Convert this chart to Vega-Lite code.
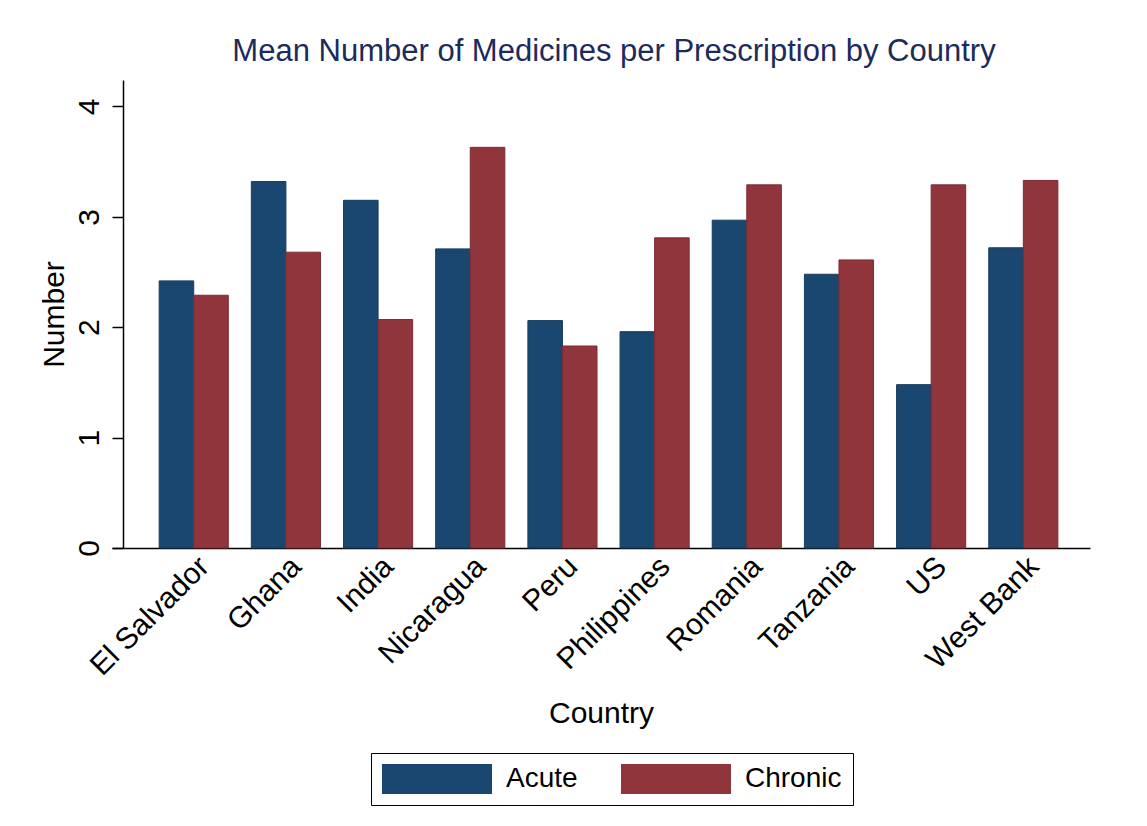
{
  "$schema": "https://vega.github.io/schema/vega-lite/v6.json",
  "width": 978,
  "height": 468,
  "autosize": {"type": "none"},
  "padding": {"left": 112, "top": 80, "right": 57, "bottom": 278},
  "background": "white",
  "title": {
    "text": "Mean Number of Medicines per Prescription by Country",
    "font": "Liberation Sans",
    "fontSize": 31,
    "fontWeight": "normal",
    "color": "#1c2b5a",
    "offset": 12,
    "dx": 13
  },
  "data": {
    "values": [
      {"country": "El Salvador", "type": "Acute", "value": 2.42},
      {"country": "El Salvador", "type": "Chronic", "value": 2.29},
      {"country": "Ghana", "type": "Acute", "value": 3.32},
      {"country": "Ghana", "type": "Chronic", "value": 2.68},
      {"country": "India", "type": "Acute", "value": 3.15},
      {"country": "India", "type": "Chronic", "value": 2.07},
      {"country": "Nicaragua", "type": "Acute", "value": 2.71},
      {"country": "Nicaragua", "type": "Chronic", "value": 3.63},
      {"country": "Peru", "type": "Acute", "value": 2.06},
      {"country": "Peru", "type": "Chronic", "value": 1.83},
      {"country": "Philippines", "type": "Acute", "value": 1.96},
      {"country": "Philippines", "type": "Chronic", "value": 2.81},
      {"country": "Romania", "type": "Acute", "value": 2.97},
      {"country": "Romania", "type": "Chronic", "value": 3.29},
      {"country": "Tanzania", "type": "Acute", "value": 2.48},
      {"country": "Tanzania", "type": "Chronic", "value": 2.61},
      {"country": "US", "type": "Acute", "value": 1.48},
      {"country": "US", "type": "Chronic", "value": 3.29},
      {"country": "West Bank", "type": "Acute", "value": 2.72},
      {"country": "West Bank", "type": "Chronic", "value": 3.33}
    ]
  },
  "mark": {"type": "bar", "strokeWidth": 1},
  "encoding": {
    "x": {
      "field": "country",
      "type": "nominal",
      "scale": {"paddingInner": 0.25, "paddingOuter": 0.43, "align": 0.595},
      "axis": {
        "title": "Country",
        "labelAngle": -45,
        "labelAlign": "right",
        "labelBaseline": "top",
        "labelPadding": 3,
        "labelFontSize": 30,
        "labelColor": "black",
        "ticks": false,
        "domainColor": "black",
        "domainWidth": 1.5,
        "titleFontSize": 30,
        "titleFontWeight": "normal",
        "titleColor": "black",
        "titlePadding": 18
      }
    },
    "xOffset": {
      "field": "type",
      "type": "nominal",
      "scale": {"paddingInner": 0, "paddingOuter": 0}
    },
    "y": {
      "field": "value",
      "type": "quantitative",
      "scale": {"domain": [0, 4.24], "nice": false, "zero": true},
      "axis": {
        "title": "Number",
        "values": [0, 1, 2, 3, 4],
        "grid": false,
        "offset": -11,
        "labelAngle": -90,
        "labelAlign": "center",
        "labelBaseline": "alphabetic",
        "labelPadding": 14,
        "labelFontSize": 30,
        "labelColor": "black",
        "tickSize": 11,
        "tickColor": "black",
        "tickWidth": 1.5,
        "domainColor": "black",
        "domainWidth": 1.5,
        "titleFontSize": 30,
        "titleFontWeight": "normal",
        "titleColor": "black",
        "titlePadding": 5
      }
    },
    "color": {
      "field": "type",
      "type": "nominal",
      "scale": {"domain": ["Acute", "Chronic"], "range": ["#1a476f", "#90353b"]},
      "legend": {
        "title": null,
        "orient": "none",
        "legendX": 259,
        "legendY": 673,
        "direction": "horizontal",
        "columns": 2,
        "symbolType": "M-1,-0.2727L1,-0.2727L1,0.2727L-1,0.2727Z",
        "symbolSize": 12100,
        "symbolStrokeWidth": 0,
        "clipHeight": 30,
        "labelFontSize": 28,
        "labelColor": "black",
        "labelOffset": 14,
        "columnPadding": 43,
        "padding": 11,
        "strokeColor": "black"
      }
    },
    "stroke": {
      "field": "type",
      "type": "nominal",
      "scale": {"domain": ["Acute", "Chronic"], "range": ["#163d60", "#7d2c32"]},
      "legend": null
    }
  },
  "config": {
    "font": "Liberation Sans",
    "view": {"stroke": null}
  }
}
